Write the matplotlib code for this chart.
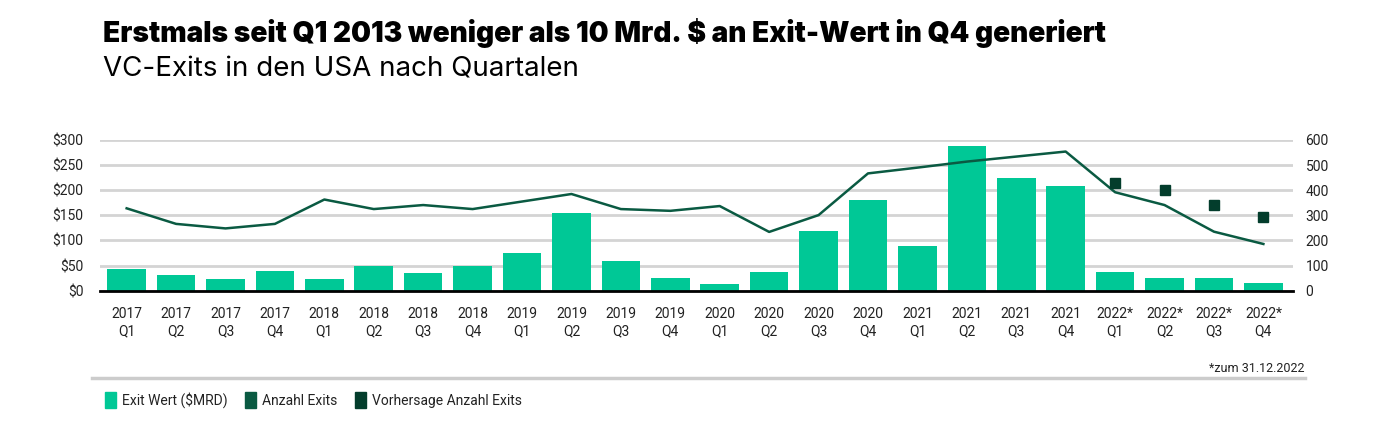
import matplotlib
matplotlib.use("Agg")
import matplotlib.pyplot as plt
from matplotlib.patches import Patch
import numpy as np

# Quartale
quartale = ['2017\nQ1', '2017\nQ2', '2017\nQ3', '2017\nQ4',
            '2018\nQ1', '2018\nQ2', '2018\nQ3', '2018\nQ4',
            '2019\nQ1', '2019\nQ2', '2019\nQ3', '2019\nQ4',
            '2020\nQ1', '2020\nQ2', '2020\nQ3', '2020\nQ4',
            '2021\nQ1', '2021\nQ2', '2021\nQ3', '2021\nQ4',
            '2022*\nQ1', '2022*\nQ2', '2022*\nQ3', '2022*\nQ4']

# Exit Wert in Mrd. $
exit_wert = [44, 32, 24, 40, 24, 50, 36, 50, 75, 155, 59, 25,
             13, 37, 118, 180, 88, 289, 224, 208, 38, 25, 25, 15]

# Anzahl Exits
anzahl_exits = [328, 266, 248, 266, 363, 325, 341, 325, 355, 385, 325, 318,
                337, 234, 301, 467, 490, 514, 534, 554, 392, 341, 235, 186]

# Vorhersage Anzahl Exits (nur 2022)
vorhersage_idx = [20, 21, 22, 23]
vorhersage = [430, 400, 341, 295]

c_bar = '#00c896'
c_line = '#0a5a42'
c_fc = '#033d2c'
txt = '#222222'

plt.rcParams['font.family'] = ['Roboto', 'DejaVu Sans']

fig = plt.figure(figsize=(14, 4.25), dpi=100)
ax = fig.add_axes([0.0714, 0.316, 0.8522, 0.3546])
ax2 = ax.twinx()

x = np.arange(len(quartale))
ax.bar(x, exit_wert, width=0.78, color=c_bar, zorder=3)
ax.set_ylim(0, 300)
ax.set_yticks([0, 50, 100, 150, 200, 250, 300])
ax.set_yticklabels(['$0', '$50', '$100', '$150', '$200', '$250', '$300'])
ax.set_xlim(-0.54, 23.6)
ax.set_xticks(x)
ax.set_xticklabels(quartale, fontsize=10, color=txt, linespacing=1.25)
ax.yaxis.grid(True, color='#d4d4d4', lw=2, zorder=0)
ax.set_axisbelow(True)
for s in ['top', 'right', 'left']:
    ax.spines[s].set_visible(False)
ax.spines['bottom'].set_color('black')
ax.spines['bottom'].set_linewidth(2)
ax.spines['bottom'].set_zorder(5)
ax.tick_params(axis='both', length=0, colors=txt)
ax.tick_params(axis='y', labelsize=10, pad=12)
ax.tick_params(axis='x', pad=12)

ax2.plot(x, anzahl_exits, color=c_line, lw=1.8, zorder=4)
ax2.plot(vorhersage_idx, vorhersage, ls='none', marker='s', ms=7,
         color=c_fc, zorder=4)
ax2.set_ylim(0, 600)
ax2.set_yticks([0, 100, 200, 300, 400, 500, 600])
ax2.tick_params(axis='y', length=0, labelsize=10, colors=txt, pad=9)
for s in ax2.spines.values():
    s.set_visible(False)

fig.text(0.0736, 0.922, 'Erstmals seit Q1 2013 weniger als 10 Mrd. $ an Exit-Wert in Q4 generiert',
         fontsize=20.2, fontweight='black', family=['Inter', 'DejaVu Sans'], color='black', va='center')
fig.text(0.0736, 0.836, 'VC-Exits in den USA nach Quartalen',
         fontsize=20, family=['Inter', 'DejaVu Sans'], color='black', va='center')

fig.text(0.932, 0.132, '*zum 31.12.2022', fontsize=9, color=txt, ha='right', va='center')
fig.add_artist(plt.Line2D([0.066, 0.932], [0.111, 0.111], color='#cccccc', lw=2.5))

handles = [Patch(color=c_bar, label='Exit Wert ($MRD)'),
           Patch(color=c_line, label='Anzahl Exits'),
           Patch(color=c_fc, label='Vorhersage Anzahl Exits')]
fig.legend(handles=handles, loc='center left', bbox_to_anchor=(0.066, 0.058), ncol=3,
           frameon=False, fontsize=10, handlelength=0.8, handleheight=1.4,
           handletextpad=0.4, columnspacing=1.3, labelcolor=txt)

fig.savefig('out.png', dpi=100, facecolor='white')
